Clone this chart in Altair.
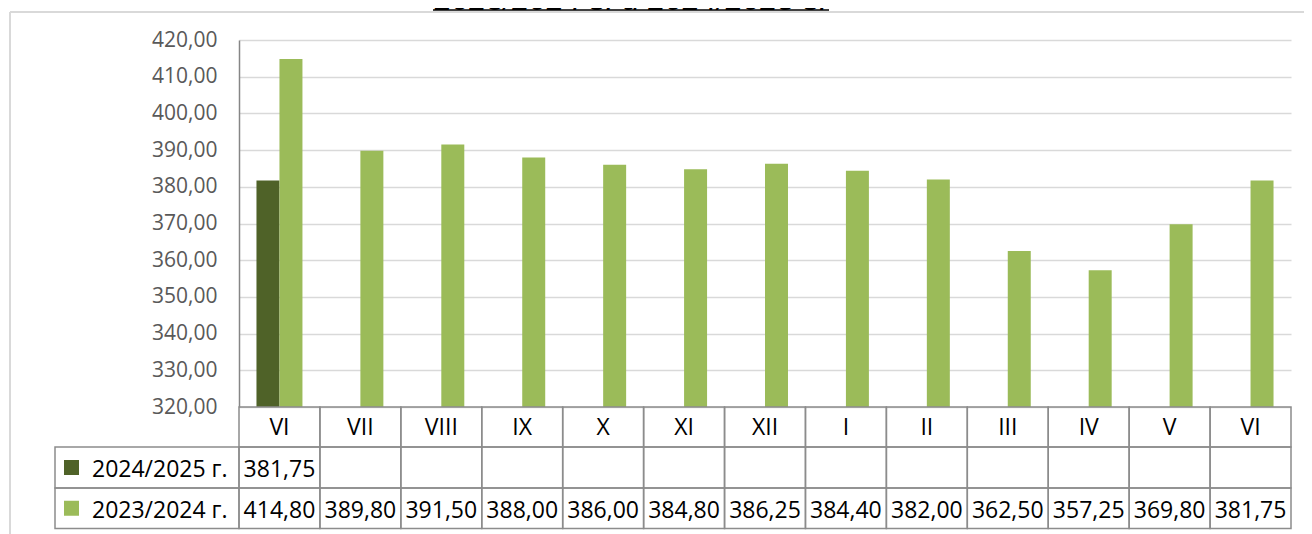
import altair as alt
import pandas as pd

# ---------------- data ----------------
months = ["VI", "VII", "VIII", "IX", "X", "XI", "XII", "I", "II", "III", "IV", "V", "VI"]
series_names = ["2024/2025 г.", "2023/2024 г."]
series_colors = ["#4f6228", "#9bbb59"]
values_2425 = [381.75, None, None, None, None, None, None, None, None, None, None, None, None]
values_2324 = [414.80, 389.80, 391.50, 388.00, 386.00, 384.80, 386.25, 384.40, 382.00,
               362.50, 357.25, 369.80, 381.75]
y_ticks = [320, 330, 340, 350, 360, 370, 380, 390, 400, 410, 420]
title_text = "2023/2024 г. и 2024/2025 г."

rows = []
for i, m in enumerate(months):
    for s, vals in zip(series_names, [values_2425, values_2324]):
        v = vals[i]
        rows.append({
            "idx": i,
            "month": m,
            "series": s,
            "value": v,
            "label": "" if v is None else f"{v:.2f}".replace(".", ","),
        })
df = pd.DataFrame(rows)
legend_df = pd.DataFrame({"series": series_names, "color": series_colors})
title_df = pd.DataFrame({"title": [title_text]})

# ---------------- layout ----------------
W, H = 1052, 367
PAD_B = 127
PAD_R = 13
FONT = "Open Sans"
LINE = "#8c8c8c"
TXT = 23

x_enc = alt.X("idx:O", scale=alt.Scale(domain=list(range(len(months))), paddingInner=0, paddingOuter=0),
              axis=None)
color_scale = alt.Scale(domain=series_names, range=series_colors)

bars = alt.Chart(df).transform_filter("isValid(datum.value)").mark_bar(clip=True).encode(
    x=x_enc,
    xOffset=alt.XOffset("series:N", scale=alt.Scale(domain=series_names, paddingInner=0, paddingOuter=0.76)),
    y=alt.Y("value:Q",
            scale=alt.Scale(domain=[320, 420], zero=False, nice=False),
            axis=alt.Axis(values=y_ticks, title=None, ticks=False, labelPadding=22,
                          labelExpr="replace(format(datum.value, '.2f'), '.', ',')",
                          labelFont=FONT, labelFontSize=21, labelColor="#595959",
                          grid=True, gridColor="#d9d9d9", gridWidth=1.5,
                          domain=True, domainColor="#868686", domainWidth=1.5)),
    color=alt.Color("series:N", scale=color_scale, legend=None),
)

# table rows (plot coords)
row_bounds = [(367, 407), (407, 448), (448, 488.5)]
row_base = [395, 436.5, 477.5]

layers = [bars]
one = alt.Chart(df).transform_filter(alt.datum.series == series_names[1])
for (t, b) in row_bounds:
    layers.append(one.mark_rect(fill="transparent", stroke=LINE, strokeWidth=1.5).encode(
        x=x_enc, y=alt.value(t), y2=alt.value(b)))

layers.append(one.mark_text(font=FONT, fontSize=TXT, color="#000000", baseline="alphabetic").encode(
    x=x_enc, y=alt.value(row_base[0]), text="month:N"))
for k, s in enumerate(series_names):
    layers.append(alt.Chart(df).transform_filter(alt.datum.series == s).mark_text(
        font=FONT, fontSize=TXT, color="#000000", baseline="alphabetic").encode(
        x=x_enc, y=alt.value(row_base[k + 1]), text="label:N"))

    leg = alt.Chart(legend_df).transform_filter(alt.datum.series == s)
    t, b = row_bounds[k + 1]
    layers.append(leg.mark_rect(fill="transparent", stroke=LINE, strokeWidth=1.5).encode(
        x=alt.value(-184), x2=alt.value(0), y=alt.value(t), y2=alt.value(b)))
    mid = (t + b) / 2
    layers.append(leg.mark_rect().encode(
        x=alt.value(-175), x2=alt.value(-160), y=alt.value(mid - 7.5), y2=alt.value(mid + 7.5),
        color=alt.Color("series:N", scale=color_scale, legend=None)))
    layers.append(leg.mark_text(font=FONT, fontSize=TXT, color="#000000", align="left",
                                baseline="alphabetic").encode(
        x=alt.value(-147), y=alt.value(row_base[k + 1]), text="series:N"))

# outer chart frame (light grey) and the title strip visible at the top edge
frame = alt.Chart(title_df)
layers.append(frame.mark_rule(color="#d9d9d9", strokeWidth=2).encode(
    x=alt.value(-229), x2=alt.value(W + PAD_R), y=alt.value(-28)))
layers.append(frame.mark_rule(color="#d9d9d9", strokeWidth=2).encode(
    x=alt.value(-229), y=alt.value(-28), y2=alt.value(H + PAD_B)))
layers.append(frame.mark_text(font="Liberation Sans", fontSize=31, fontStyle="italic", color="#000000",
                              align="center", baseline="alphabetic").encode(
    x=alt.value(392), y=alt.value(-30.5), text="title:N"))
layers.append(frame.mark_rule(color="#000000", strokeWidth=1.5).encode(
    x=alt.value(194), x2=alt.value(590), y=alt.value(-30)))

chart = alt.layer(*layers).properties(
    width=W, height=H,
    padding={"left": 231, "top": 32, "right": PAD_R, "bottom": PAD_B},
    autosize=alt.AutoSizeParams(type="none"),
).configure_view(stroke=None)

chart.save("out.html", embed_options={"renderer": "svg", "actions": False})
